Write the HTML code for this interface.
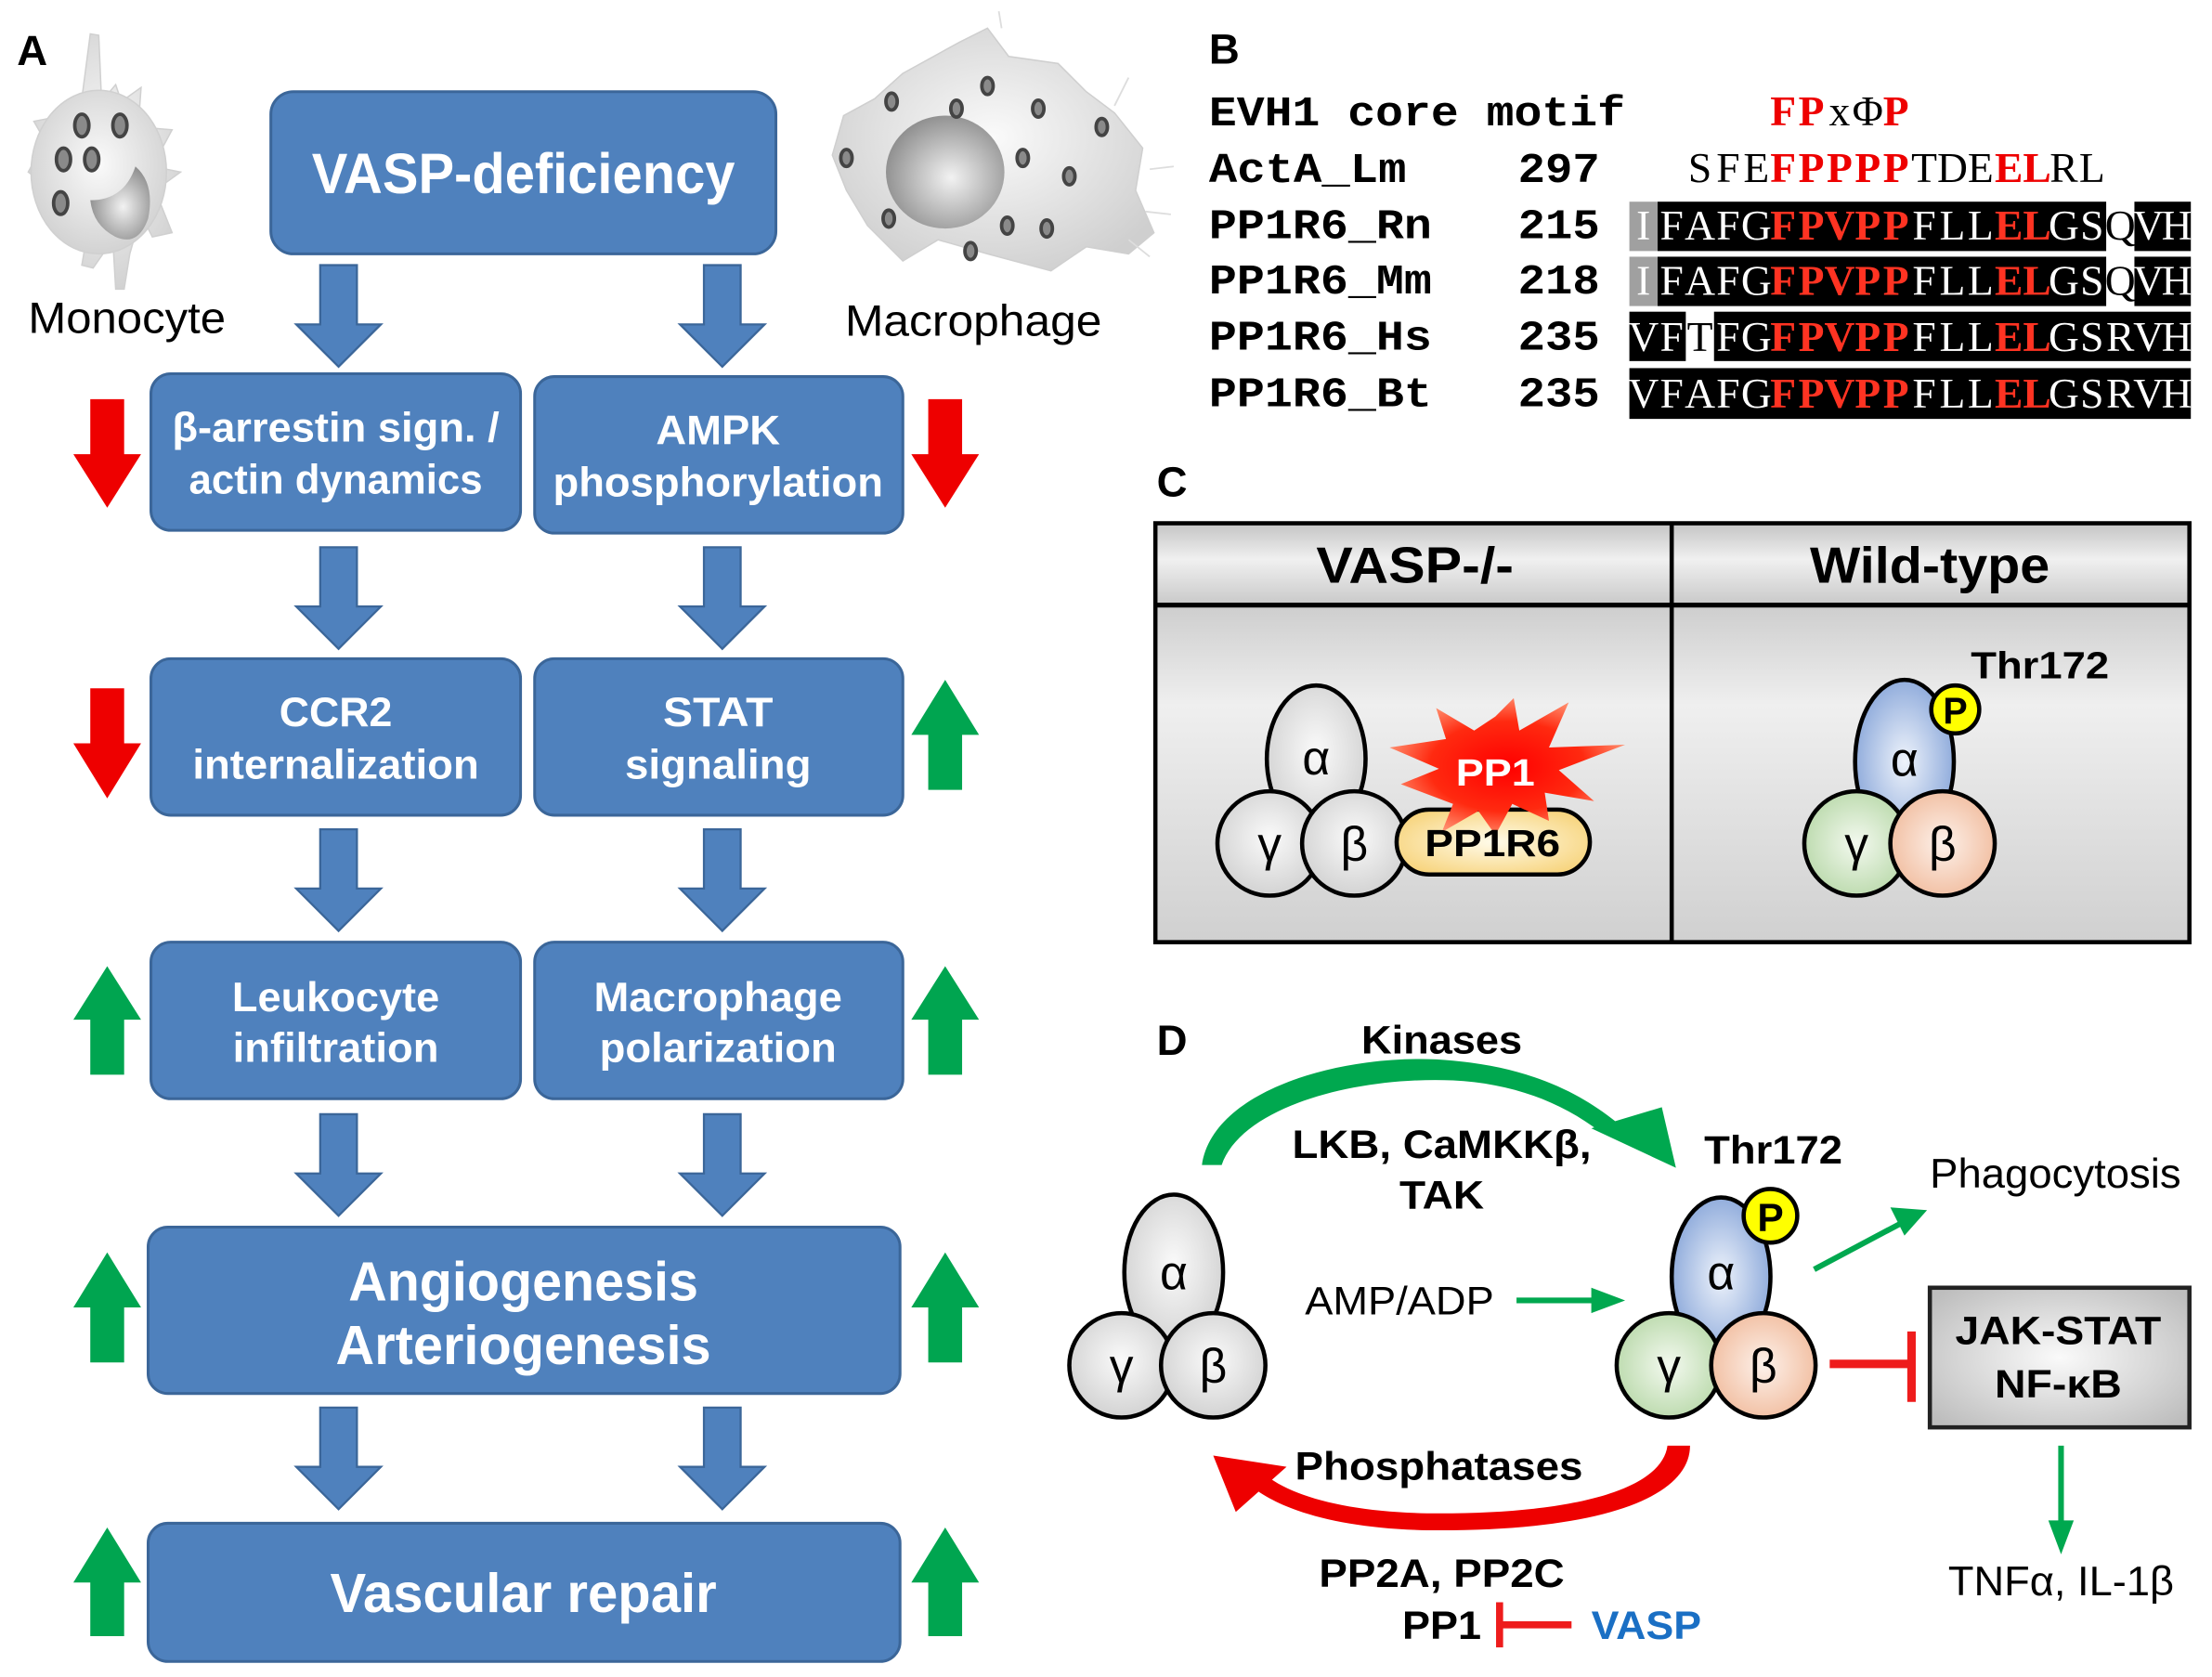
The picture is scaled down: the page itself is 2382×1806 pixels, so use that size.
<!DOCTYPE html>
<html><head><meta charset="utf-8"><style>html,body{margin:0;padding:0;background:#fff}svg{display:block}
text{font-family:"Liberation Sans Narrow","Liberation Sans",sans-serif}
.b{font-weight:bold}.w{fill:#fff}
.mono text{font-family:"Liberation Mono",monospace;font-weight:bold}
.seq text{font-family:"Liberation Serif",serif}
</style></head><body>
<svg width="2382" height="1806" viewBox="0 0 1568 1189" preserveAspectRatio="none" xmlns="http://www.w3.org/2000/svg">
<defs>
<radialGradient id="gr" cx="50%" cy="45%" r="60%"><stop offset="0" stop-color="#fafafa"/><stop offset="1" stop-color="#cfcfcf"/></radialGradient>
<radialGradient id="nuc" cx="55%" cy="55%" r="60%"><stop offset="0" stop-color="#f2f2f2"/><stop offset="1" stop-color="#8a8a8a"/></radialGradient>
<radialGradient id="bl" cx="50%" cy="50%" r="60%"><stop offset="0" stop-color="#eef3fb"/><stop offset="1" stop-color="#7f9fd6"/></radialGradient>
<radialGradient id="gn" cx="50%" cy="50%" r="60%"><stop offset="0" stop-color="#f3f9ef"/><stop offset="1" stop-color="#b4d6a4"/></radialGradient>
<radialGradient id="or" cx="50%" cy="50%" r="60%"><stop offset="0" stop-color="#fdf1ea"/><stop offset="1" stop-color="#f0b898"/></radialGradient>
<radialGradient id="ye" cx="50%" cy="50%" r="60%"><stop offset="0" stop-color="#fffbea"/><stop offset="1" stop-color="#f7d37a"/></radialGradient>
<radialGradient id="rd" cx="50%" cy="50%" r="55%"><stop offset="0" stop-color="#ff0000"/><stop offset="0.6" stop-color="#ff2a10"/><stop offset="1" stop-color="#ff9b7a"/></radialGradient>
<linearGradient id="hd" x1="0" y1="0" x2="0" y2="1"><stop offset="0" stop-color="#c4c4c4"/><stop offset="0.45" stop-color="#f0f0f0"/><stop offset="1" stop-color="#cacaca"/></linearGradient>
<linearGradient id="bd" x1="0" y1="0" x2="0" y2="1"><stop offset="0" stop-color="#cdcdcd"/><stop offset="0.3" stop-color="#efefef"/><stop offset="1" stop-color="#d0d0d0"/></linearGradient>
<radialGradient id="jb" cx="50%" cy="50%" r="65%"><stop offset="0" stop-color="#fafafa"/><stop offset="1" stop-color="#bdbdbd"/></radialGradient>
</defs>

<!-- Panel A -->
<text x="12" y="46" class="b" font-size="30">A</text>
<g fill="url(#gr)" stroke="#d0d0d0" stroke-width="1">
<path d="M64,24 L70,25 L72,72 L82,60 L86,72 L100,62 L98,90 L122,92 L108,118 L128,122 L110,135 L122,165 L108,168 L100,152 L92,180 L88,205 L82,205 L80,170 L66,190 L58,188 L62,165 L40,160 L45,140 L20,122 L32,100 L24,86 L45,82 L58,70 Z"/>
<ellipse cx="70" cy="122" rx="48" ry="58"/>
</g>
<g fill="#8a8a8a" stroke="#444" stroke-width="2.5">
<ellipse cx="58" cy="89" rx="5" ry="8"/><ellipse cx="85" cy="89" rx="5" ry="8"/>
<ellipse cx="45" cy="113" rx="5" ry="8"/><ellipse cx="65" cy="113" rx="5" ry="8"/>
<ellipse cx="43" cy="144" rx="5" ry="8"/></g>
<path d="M96,118 Q110,130 105,155 Q98,175 82,168 Q66,160 64,142 Q88,142 96,118 Z" fill="url(#nuc)"/>
<text x="90" y="236" font-size="31" text-anchor="middle" textLength="140" lengthAdjust="spacingAndGlyphs">Monocyte</text>
<path d="M640,52 L680,30 L700,20 L715,40 L750,45 L770,65 L790,80 L810,105 L805,135 L818,165 L800,180 L770,175 L745,192 L700,180 L665,170 L640,185 L615,160 L600,135 L590,110 L598,82 L620,70 Z" fill="url(#gr)" stroke="#cfcfcf"/>
<g stroke="#ddd" stroke-width="1.2"><line x1="710" y1="20" x2="708" y2="8"/><line x1="790" y1="75" x2="800" y2="55"/><line x1="815" y1="120" x2="832" y2="118"/><line x1="812" y1="150" x2="830" y2="152"/><line x1="800" y1="170" x2="815" y2="182"/></g>
<ellipse cx="670" cy="122" rx="42" ry="40" fill="url(#nuc)"/>
<g fill="#8a8a8a" stroke="#444" stroke-width="2.5">
<ellipse cx="700" cy="61" rx="4" ry="6"/><ellipse cx="632" cy="72" rx="4" ry="6"/><ellipse cx="678" cy="77" rx="4" ry="6"/><ellipse cx="736" cy="77" rx="4" ry="6"/><ellipse cx="781" cy="90" rx="4" ry="6"/><ellipse cx="600" cy="112" rx="4" ry="6"/><ellipse cx="725" cy="112" rx="4" ry="6"/><ellipse cx="758" cy="125" rx="4" ry="6"/><ellipse cx="630" cy="155" rx="4" ry="6"/><ellipse cx="714" cy="160" rx="4" ry="6"/><ellipse cx="742" cy="162" rx="4" ry="6"/><ellipse cx="688" cy="178" rx="4" ry="6"/></g>
<text x="690" y="238" font-size="31" text-anchor="middle" textLength="182" lengthAdjust="spacingAndGlyphs">Macrophage</text>

<g fill="#4f81bd" stroke="#3b6699" stroke-width="2">
<rect x="192" y="65" width="358" height="115" rx="16"/>
<rect x="107" y="265" width="262" height="111" rx="14"/>
<rect x="379" y="267" width="261" height="111" rx="14"/>
<rect x="107" y="467" width="262" height="111" rx="14"/>
<rect x="379" y="467" width="261" height="111" rx="14"/>
<rect x="107" y="668" width="262" height="111" rx="14"/>
<rect x="379" y="668" width="261" height="111" rx="14"/>
<rect x="105" y="870" width="533" height="118" rx="14"/>
<rect x="105" y="1080" width="533" height="98" rx="14"/>
</g>
<g fill="#4f81bd" stroke="#3b6699" stroke-width="1.5">
<polygon points="227,188 253,188 253,230 270,230 240,260 210,230 227,230"/>
<polygon points="499,188 525,188 525,230 542,230 512,260 482,230 499,230"/>
<polygon points="227,388 253,388 253,430 270,430 240,460 210,430 227,430"/>
<polygon points="499,388 525,388 525,430 542,430 512,460 482,430 499,430"/>
<polygon points="227,588 253,588 253,630 270,630 240,660 210,630 227,630"/>
<polygon points="499,588 525,588 525,630 542,630 512,660 482,630 499,630"/>
<polygon points="227,790 253,790 253,832 270,832 240,862 210,832 227,832"/>
<polygon points="499,790 525,790 525,832 542,832 512,862 482,832 499,832"/>
<polygon points="227,998 253,998 253,1040 270,1040 240,1070 210,1040 227,1040"/>
<polygon points="499,998 525,998 525,1040 542,1040 512,1070 482,1040 499,1040"/>
</g>
<g class="b w" text-anchor="middle">
<text x="371" y="137" font-size="40" textLength="300" lengthAdjust="spacingAndGlyphs">VASP-deficiency</text>
<text x="238" y="313" font-size="29" textLength="232" lengthAdjust="spacingAndGlyphs">β-arrestin sign. /</text>
<text x="238" y="350" font-size="29" textLength="208" lengthAdjust="spacingAndGlyphs">actin dynamics</text>
<text x="509" y="315" font-size="29" textLength="88" lengthAdjust="spacingAndGlyphs">AMPK</text>
<text x="509" y="352" font-size="29" textLength="234" lengthAdjust="spacingAndGlyphs">phosphorylation</text>
<text x="238" y="515" font-size="29" textLength="80" lengthAdjust="spacingAndGlyphs">CCR2</text>
<text x="238" y="552" font-size="29" textLength="203" lengthAdjust="spacingAndGlyphs">internalization</text>
<text x="509" y="515" font-size="29" textLength="78" lengthAdjust="spacingAndGlyphs">STAT</text>
<text x="509" y="552" font-size="29" textLength="132" lengthAdjust="spacingAndGlyphs">signaling</text>
<text x="238" y="717" font-size="29" textLength="147" lengthAdjust="spacingAndGlyphs">Leukocyte</text>
<text x="238" y="753" font-size="29" textLength="146" lengthAdjust="spacingAndGlyphs">infiltration</text>
<text x="509" y="717" font-size="29" textLength="176" lengthAdjust="spacingAndGlyphs">Macrophage</text>
<text x="509" y="753" font-size="29" textLength="168" lengthAdjust="spacingAndGlyphs">polarization</text>
<text x="371" y="922" font-size="39" textLength="248" lengthAdjust="spacingAndGlyphs">Angiogenesis</text>
<text x="371" y="967" font-size="39" textLength="266" lengthAdjust="spacingAndGlyphs">Arteriogenesis</text>
<text x="371" y="1143" font-size="39" textLength="274" lengthAdjust="spacingAndGlyphs">Vascular repair</text>
</g>
<g fill="#ee0000">
<polygon points="64,283 88,283 88,322 100,322 76,360 52,322 64,322"/>
<polygon points="658,283 682,283 682,322 694,322 670,360 646,322 658,322"/>
<polygon points="64,488 88,488 88,527 100,527 76,566 52,527 64,527"/>
</g>
<g fill="#00a550">
<polygon points="658,560 682,560 682,521 694,521 670,482 646,521 658,521"/>
<polygon points="64,762 88,762 88,723 100,723 76,685 52,723 64,723"/>
<polygon points="658,762 682,762 682,723 694,723 670,685 646,723 658,723"/>
<polygon points="64,966 88,966 88,927 100,927 76,888 52,927 64,927"/>
<polygon points="658,966 682,966 682,927 694,927 670,888 646,927 658,927"/>
<polygon points="64,1160 88,1160 88,1122 100,1122 76,1083 52,1122 64,1122"/>
<polygon points="658,1160 682,1160 682,1122 694,1122 670,1083 646,1122 658,1122"/>
</g>

<!-- Panel B -->
<text x="857" y="45" class="b" font-size="30" style="font-family:'Liberation Sans',sans-serif">B</text>
<g class="mono" font-size="30">
<text x="857" y="89" textLength="295" lengthAdjust="spacingAndGlyphs">EVH1 core motif</text>
<text x="857" y="129" textLength="140" lengthAdjust="spacingAndGlyphs">ActA_Lm</text>
<text x="857" y="169" textLength="158" lengthAdjust="spacingAndGlyphs">PP1R6_Rn</text>
<text x="857" y="208" textLength="158" lengthAdjust="spacingAndGlyphs">PP1R6_Mm</text>
<text x="857" y="248" textLength="158" lengthAdjust="spacingAndGlyphs">PP1R6_Hs</text>
<text x="857" y="288" textLength="158" lengthAdjust="spacingAndGlyphs">PP1R6_Bt</text>
<text x="1076" y="129" textLength="58" lengthAdjust="spacingAndGlyphs">297</text>
<text x="1076" y="169" textLength="58" lengthAdjust="spacingAndGlyphs">215</text>
<text x="1076" y="208" textLength="58" lengthAdjust="spacingAndGlyphs">218</text>
<text x="1076" y="248" textLength="58" lengthAdjust="spacingAndGlyphs">235</text>
<text x="1076" y="288" textLength="58" lengthAdjust="spacingAndGlyphs">235</text>
</g>
<rect x="1155" y="143" width="20" height="35" fill="#a0a0a0"/>
<rect x="1175" y="143" width="318" height="35" fill="#000"/>
<rect x="1513" y="143" width="40" height="35" fill="#000"/>
<rect x="1155" y="182" width="20" height="35" fill="#a0a0a0"/>
<rect x="1175" y="182" width="318" height="35" fill="#000"/>
<rect x="1513" y="182" width="40" height="35" fill="#000"/>
<rect x="1155" y="221" width="40" height="35" fill="#000"/>
<rect x="1215" y="221" width="338" height="35" fill="#000"/>
<rect x="1155" y="261" width="398" height="36" fill="#000"/>
<g class="seq" font-size="30" text-anchor="middle">
<text y="89"><tspan x="1264 1284" fill="#e00" font-weight="bold">FP</tspan><tspan x="1304 1324">xΦ</tspan><tspan x="1344" fill="#e00" font-weight="bold">P</tspan></text>
<text y="129"><tspan x="1205 1225 1245">SFE</tspan><tspan x="1264 1284 1304 1324 1344" fill="#e00" font-weight="bold">FPPPP</tspan><tspan x="1364 1384 1404">TDE</tspan><tspan x="1424 1444" fill="#e00" font-weight="bold">EL</tspan><tspan x="1463 1483">RL</tspan></text>
<text y="170" fill="#fff"><tspan x="1165 1185 1205 1225 1245">IFAFG</tspan><tspan x="1264 1284 1304 1324 1344" fill="#f32" font-weight="bold">FPVPP</tspan><tspan x="1364 1384 1404">FLL</tspan><tspan x="1424 1444" fill="#f32" font-weight="bold">EL</tspan><tspan x="1463 1483">GS</tspan><tspan x="1503" fill="#000">Q</tspan><tspan x="1523 1543">VH</tspan></text>
<text y="209" fill="#fff"><tspan x="1165 1185 1205 1225 1245">IFAFG</tspan><tspan x="1264 1284 1304 1324 1344" fill="#f32" font-weight="bold">FPVPP</tspan><tspan x="1364 1384 1404">FLL</tspan><tspan x="1424 1444" fill="#f32" font-weight="bold">EL</tspan><tspan x="1463 1483">GS</tspan><tspan x="1503" fill="#000">Q</tspan><tspan x="1523 1543">VH</tspan></text>
<text y="249" fill="#fff"><tspan x="1165 1185">VF</tspan><tspan x="1205" fill="#000">T</tspan><tspan x="1225 1245">FG</tspan><tspan x="1264 1284 1304 1324 1344" fill="#f32" font-weight="bold">FPVPP</tspan><tspan x="1364 1384 1404">FLL</tspan><tspan x="1424 1444" fill="#f32" font-weight="bold">EL</tspan><tspan x="1463 1483 1503 1523 1543">GSRVH</tspan></text>
<text y="289" fill="#fff"><tspan x="1165 1185 1205 1225 1245">VFAFG</tspan><tspan x="1264 1284 1304 1324 1344" fill="#f32" font-weight="bold">FPVPP</tspan><tspan x="1364 1384 1404">FLL</tspan><tspan x="1424 1444" fill="#f32" font-weight="bold">EL</tspan><tspan x="1463 1483 1503 1523 1543">GSRVH</tspan></text>
</g>

<!-- Panel C -->
<text x="820" y="352" class="b" font-size="30" style="font-family:'Liberation Sans',sans-serif">C</text>
<rect x="819" y="371" width="733" height="57" fill="url(#hd)"/>
<rect x="819" y="428" width="733" height="240" fill="url(#bd)"/>
<rect x="819" y="371" width="733" height="297" fill="none" stroke="#000" stroke-width="3"/>
<line x1="819" y1="429" x2="1552" y2="429" stroke="#000" stroke-width="3.5"/>
<line x1="1185" y1="371" x2="1185" y2="668" stroke="#000" stroke-width="3"/>
<text x="1003" y="413" class="b" font-size="36" text-anchor="middle" textLength="140" lengthAdjust="spacingAndGlyphs">VASP-/-</text>
<text x="1368" y="413" class="b" font-size="36" text-anchor="middle" textLength="170" lengthAdjust="spacingAndGlyphs">Wild-type</text>
<g stroke="#000" stroke-width="3">
<ellipse cx="933" cy="538" rx="35" ry="52" fill="url(#gr)"/>
<circle cx="900" cy="598" r="37" fill="url(#gr)"/>
<circle cx="960" cy="598" r="37" fill="url(#gr)"/>
<rect x="990" y="574" width="137" height="46" rx="23" fill="url(#ye)"/>
</g>
<polygon points="1060,508 1073,495 1077,518 1112,498 1098,530 1152,528 1105,546 1130,568 1095,562 1098,582 1072,570 1060,592 1048,575 1022,590 1030,570 993,556 1020,545 985,530 1025,524 1018,502 1045,518" fill="url(#rd)"/>
<g font-size="34" text-anchor="middle">
<text x="933" y="549">α</text>
<text x="900" y="610">γ</text>
<text x="960" y="610">β</text>
</g>
<text x="1060" y="557" class="b w" font-size="27" text-anchor="middle" textLength="56" lengthAdjust="spacingAndGlyphs">PP1</text>
<text x="1058" y="607" class="b" font-size="27" text-anchor="middle" textLength="96" lengthAdjust="spacingAndGlyphs">PP1R6</text>
<g stroke="#000" stroke-width="3">
<ellipse cx="1350" cy="540" rx="35" ry="58" fill="url(#bl)"/>
<circle cx="1316" cy="598" r="37" fill="url(#gn)"/>
<circle cx="1377" cy="598" r="37" fill="url(#or)"/>
<circle cx="1386" cy="503" r="17" fill="#ffff00"/>
</g>
<text x="1386" y="513" class="b" font-size="26" text-anchor="middle">P</text>
<text x="1350" y="550" font-size="34" text-anchor="middle">α</text>
<text x="1316" y="610" font-size="34" text-anchor="middle">γ</text>
<text x="1377" y="610" font-size="34" text-anchor="middle">β</text>
<text x="1397" y="481" class="b" font-size="27" textLength="98" lengthAdjust="spacingAndGlyphs">Thr172</text>

<!-- Panel D -->
<text x="820" y="748" class="b" font-size="30" style="font-family:'Liberation Sans',sans-serif">D</text>
<text x="1022" y="747" class="b" font-size="28" text-anchor="middle" textLength="114" lengthAdjust="spacingAndGlyphs">Kinases</text>
<path d="M852,826 C860,770 960,745 1030,752 C1085,757 1120,775 1145,795 L1135,803 C1105,780 1070,768 1030,766 C960,763 880,785 866,826 Z" fill="#00a84f"/>
<polygon points="1128,800 1178,785 1188,828" fill="#00a84f"/>
<text x="1022" y="821" class="b" font-size="28" text-anchor="middle" textLength="212" lengthAdjust="spacingAndGlyphs">LKB, CaMKKβ,</text>
<text x="1022" y="857" class="b" font-size="28" text-anchor="middle" textLength="60" lengthAdjust="spacingAndGlyphs">TAK</text>
<text x="1257" y="825" class="b" font-size="28" text-anchor="middle" textLength="98" lengthAdjust="spacingAndGlyphs">Thr172</text>
<g stroke="#000" stroke-width="3">
<ellipse cx="832" cy="902" rx="35" ry="55" fill="url(#gr)"/>
<circle cx="795" cy="968" r="37" fill="url(#gr)"/>
<circle cx="860" cy="968" r="37" fill="url(#gr)"/>
<ellipse cx="1220" cy="905" rx="35" ry="56" fill="url(#bl)"/>
<circle cx="1183" cy="968" r="37" fill="url(#gn)"/>
<circle cx="1250" cy="968" r="37" fill="url(#or)"/>
<circle cx="1255" cy="862" r="19" fill="#ffff00"/>
</g>
<text x="1255" y="873" class="b" font-size="28" text-anchor="middle">P</text>
<g font-size="34" text-anchor="middle">
<text x="832" y="914">α</text><text x="795" y="980">γ</text><text x="860" y="980">β</text>
<text x="1220" y="914">α</text><text x="1183" y="980">γ</text><text x="1250" y="980">β</text>
</g>
<text x="992" y="932" font-size="28" text-anchor="middle" textLength="134" lengthAdjust="spacingAndGlyphs">AMP/ADP</text>
<line x1="1075" y1="922" x2="1130" y2="922" stroke="#00a84f" stroke-width="4"/>
<polygon points="1128,913 1152,922 1128,931" fill="#00a84f"/>
<line x1="1286" y1="900" x2="1350" y2="866" stroke="#00a84f" stroke-width="4"/>
<polygon points="1340,856 1366,858 1350,876" fill="#00a84f"/>
<text x="1368" y="842" font-size="29" textLength="178" lengthAdjust="spacingAndGlyphs">Phagocytosis</text>
<line x1="1297" y1="967" x2="1354" y2="967" stroke="#ee1c1c" stroke-width="6"/>
<line x1="1355" y1="944" x2="1355" y2="994" stroke="#ee1c1c" stroke-width="6"/>
<rect x="1368" y="913" width="184" height="99" fill="url(#jb)" stroke="#222" stroke-width="3"/>
<text x="1459" y="953" class="b" font-size="28" text-anchor="middle" textLength="146" lengthAdjust="spacingAndGlyphs">JAK-STAT</text>
<text x="1459" y="991" class="b" font-size="28" text-anchor="middle" textLength="90" lengthAdjust="spacingAndGlyphs">NF-κB</text>
<line x1="1461" y1="1025" x2="1461" y2="1080" stroke="#00a84f" stroke-width="4"/>
<polygon points="1452,1078 1470,1078 1461,1102" fill="#00a84f"/>
<text x="1461" y="1131" font-size="29" text-anchor="middle" textLength="160" lengthAdjust="spacingAndGlyphs">TNFα, IL-1β</text>
<path d="M1182,1025 L1198,1025 C1198,1060 1140,1085 1020,1085 C950,1085 905,1070 885,1052 L895,1044 C915,1062 960,1073 1020,1073 C1120,1073 1178,1055 1182,1025 Z" fill="#ee0000"/>
<polygon points="860,1032 912,1040 876,1072" fill="#ee0000"/>
<text x="1020" y="1049" class="b" font-size="28" text-anchor="middle" textLength="204" lengthAdjust="spacingAndGlyphs">Phosphatases</text>
<text x="1022" y="1125" class="b" font-size="28" text-anchor="middle" textLength="174" lengthAdjust="spacingAndGlyphs">PP2A, PP2C</text>
<text x="1050" y="1162" class="b" font-size="28" text-anchor="end" textLength="56" lengthAdjust="spacingAndGlyphs">PP1</text>
<line x1="1063" y1="1136" x2="1063" y2="1168" stroke="#ee1c1c" stroke-width="5"/>
<line x1="1063" y1="1152" x2="1114" y2="1152" stroke="#ee1c1c" stroke-width="5"/>
<text x="1128" y="1162" class="b" font-size="28" fill="#1a6fc4" textLength="78" lengthAdjust="spacingAndGlyphs">VASP</text>
</svg>
</body></html>
